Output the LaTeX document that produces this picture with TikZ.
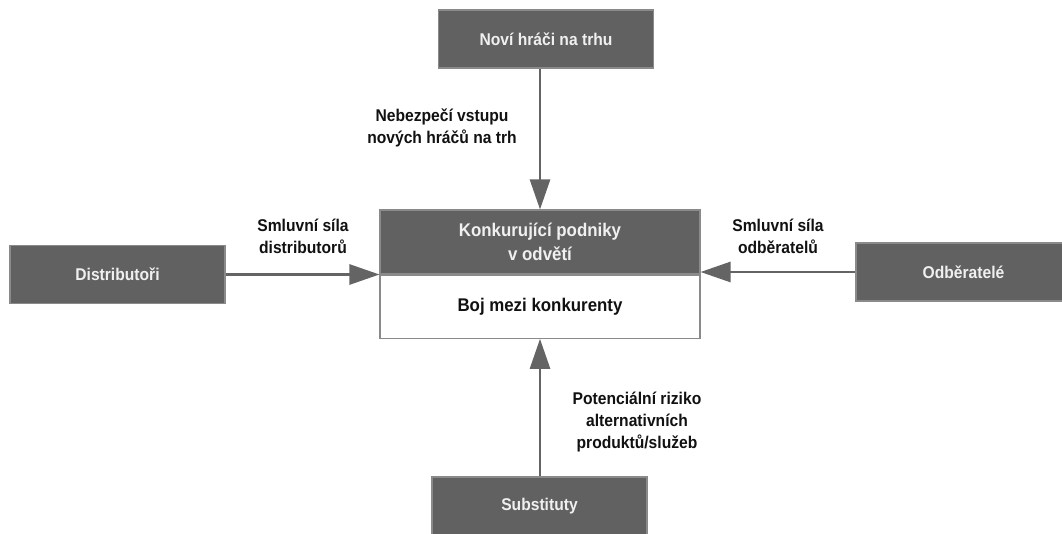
\documentclass[tikz,border=0pt]{standalone}
\usepackage{fontspec}
\setmainfont{Liberation Sans}[FakeStretch=0.92]
\usetikzlibrary{arrows.meta}
\definecolor{boxfill}{HTML}{616161}
\definecolor{boxline}{HTML}{8A8A8A}
\definecolor{arrowc}{HTML}{646464}
\definecolor{boxtext}{HTML}{F0F0F0}
\definecolor{labeltext}{HTML}{111111}
\tikzset{
  darkbox/.style={draw=boxline, line width=0.8pt, fill=boxfill, text=boxtext,
    font=\fontsize{12.75pt}{17pt}\selectfont\bfseries, align=center,
    minimum width=161.25pt, minimum height=43.5pt, inner sep=0pt},
  bigtext/.style={font=\fontsize{13.75pt}{17.5pt}\selectfont\bfseries},
  lbl/.style={text=labeltext, font=\fontsize{12.75pt}{16.5pt}\selectfont\bfseries,
    align=center, inner sep=0pt},
  force/.style={draw=arrowc, line width=2pt,
    -{Triangle[length=22.5pt,width=15pt,fill=arrowc]}}
}
\begin{document}
\begin{tikzpicture}[x=0.75pt,y=-0.75pt]
\clip (0,0) rectangle (1062,534);
\fill[white] (0,0) rectangle (1062,534);

% outer boxes
\node[darkbox] (new) at (546,39) {Noví hráči na trhu};
\node[darkbox] (dist) at (117.5,274.5) {Distributoři};
\node[darkbox] (odb) at (963.5,272) {Odběratelé};
\node[darkbox] (sub) at (539.5,506) {Substituty};

% central box
\node[darkbox, bigtext, minimum width=240pt, minimum height=48pt] (ctop) at (540,242) {Konkurující podniky\\v odvětí};
\node[draw=boxline, line width=1pt, fill=white, text=labeltext, bigtext,
  minimum width=240pt, minimum height=47.25pt, inner sep=0pt, anchor=north] (cbot) at (ctop.south) {Boj mezi konkurenty};

% connectors
\draw[force] (new.south -| ctop.north) -- (ctop.north);
\draw[force] (dist.east) -- (dist.east -| ctop.south west);
\draw[force] (odb.west) -- (odb.west -| ctop.south east);
\draw[force] (sub.north -| cbot.south) -- (cbot.south);

% labels
\node[lbl] (l1) at (442,127.5) {Nebezpečí vstupu\\nových hráčů na trh};
\node[lbl] (l2) at (303,236) {Smluvní síla\\distributorů};
\node[lbl] (l3) at (778,236) {Smluvní síla\\odběratelů};
\node[lbl] (l4) at (637,422.5) {Potenciální riziko\\alternativních\\produktů/služeb};
\end{tikzpicture}
\end{document}
